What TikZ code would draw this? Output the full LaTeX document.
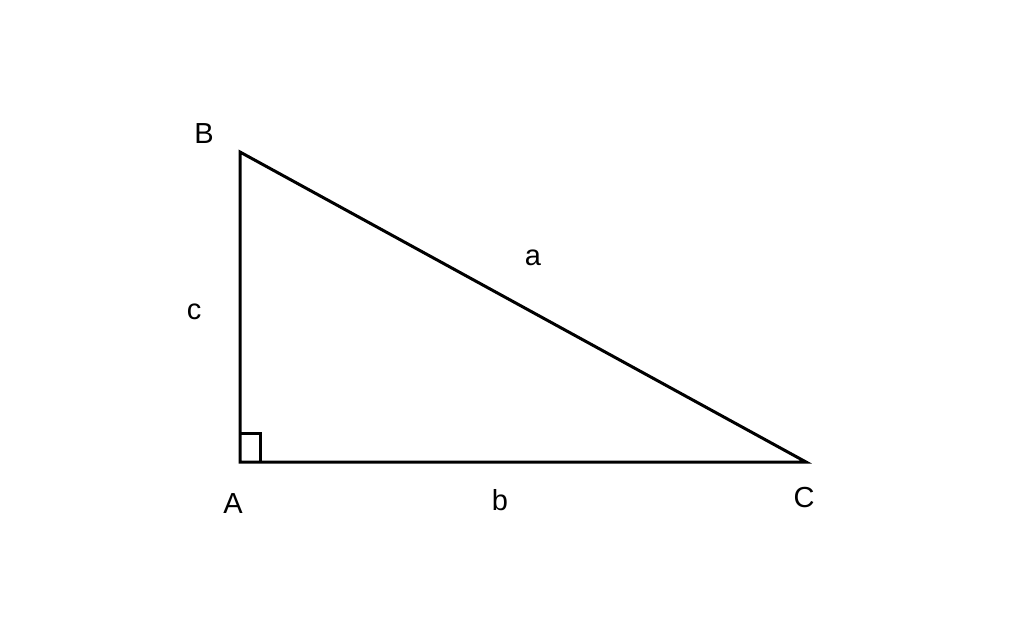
\documentclass[tikz,border=0pt]{standalone}
\usepackage{fontspec}
\setmainfont{Liberation Sans}
\begin{document}
\begin{tikzpicture}[x=1pt,y=-1pt,
  lbl/.style={font=\fontsize{29}{34}\selectfont, inner sep=0pt},
  edge/.style={line width=3pt, line join=miter}]
\useasboundingbox (0,0) rectangle (1024,632);
\coordinate (A) at (240,462);
\coordinate (B) at (240,152);
\coordinate (C) at (806,462);
\draw[edge] (A) -- (B) -- (C) -- cycle;
\draw[edge] (A) ++(0,-29) coordinate (r1) -- ++(20,0) coordinate (r2) -- ++(0,29) coordinate (r3);
\node[lbl] (lB) at (204,134) {B};
\node[lbl] (lA) at (233,504) {A};
\node[lbl] (lC) at (804,498) {C};
\node[lbl] (la) at (533,258) {a};
\node[lbl] (lb) at (500,500) {b};
\node[lbl] (lc) at (194,312) {c};
\end{tikzpicture}
\end{document}
